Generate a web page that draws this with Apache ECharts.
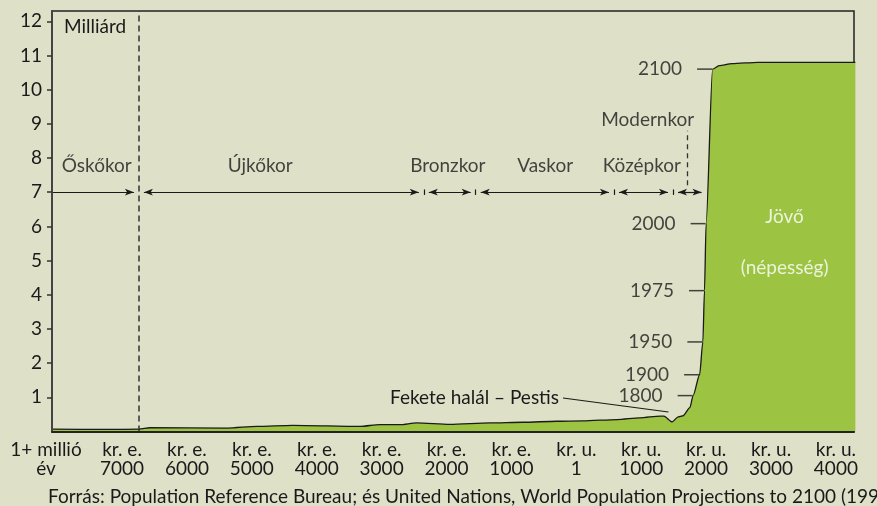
<!DOCTYPE html>
<html><head><meta charset="utf-8">
<script src="https://cdn.jsdelivr.net/npm/echarts@6/dist/echarts.min.js"></script>
<style>html,body{margin:0;padding:0;background:#dee0c8}#c{width:877px;height:506px}</style>
</head><body><div id="c"></div>
<script>
// ---- data (population in billions by year; negative = BC) ----
const popYears  = [-8100,-7230,-6740,-6570,-5380,-4920,-4370,-3330,-3030,-2720,-2460,-1950,-1330,-820,-300,100,630,980,1290,1350,1475,1570,1645,1750,1800,1900,1950,1975,2000,2100,2200,2400,2800,4300];
const popValues = [0.07,0.06,0.07,0.11,0.10,0.15,0.18,0.15,0.20,0.20,0.25,0.21,0.25,0.27,0.30,0.31,0.35,0.40,0.45,0.45,0.28,0.43,0.46,0.70,1.05,1.66,2.62,4.12,6.08,10.6,10.7,10.76,10.8,10.8];

const yTickValues = [1,2,3,4,5,6,7,8,9,10,11,12];
const xTickYears  = [-7000,-6000,-5000,-4000,-3000,-2000,-1000,1,1000,2000,3000,4000];
const xTickLabels = ['kr. e.\n7000','kr. e.\n6000','kr. e.\n5000','kr. e.\n4000','kr. e.\n3000','kr. e.\n2000','kr. e.\n1000','kr. u.\n1','kr. u.\n1000','kr. u.\n2000','kr. u.\n3000','kr. u.\n4000'];
const firstLabel  = ['1+ millió','év'];

const eraNames      = ['Őskőkor','Újkőkor','Bronzkor','Vaskor','Középkor','Modernkor'];
const eraBounds     = [-6740,-2350,-1550,580,1490];
const modernEnd     = 1930;
const eraLevel      = 7;
const eraLabelYears = [-7390,-4870,-1980,-480,1010,1100];
const eraLabelVals  = [7.76,7.76,7.76,7.76,7.76,9.11];

const annotYears  = [1800,1900,1950,1975,2000,2100];
const annotValues = [1.05,1.66,2.62,4.12,6.08,10.6];

const plagueText  = 'Fekete halál – Pestis';
const plagueFrom  = [-205,0.98];
const plagueTo    = [1420,0.57];

const futureText  = ['Jövő','(népesség)'];
const futurePos   = [[3210,6.28],[3210,4.78]];

const unitName   = 'Milliárd';
const sourceText = 'Forrás: Population Reference Bureau; és United Nations, World Population Projections to 2100 (1998)';

// ---- chart ----
const X_MIN = -8079, X_MAX = 4279, Y_MAX = 12.3, GAP = 77;
const FONT = 'Lato';
const FS = 19;
const INK = '#1a1a1a';

const starts = [X_MIN, ...eraBounds];
const ends = [...eraBounds, modernEnd];
const lineSt = {color: INK, width: 1.2, type: 'solid'};
const marks = [];
for (let i = 0; i < eraNames.length; i++) {
  const s = i === 0 ? X_MIN : starts[i] + GAP;
  const e = i === eraNames.length - 1 ? ends[i] : ends[i] - GAP;
  marks.push([{coord: [s, eraLevel], symbol: i === 0 ? 'none' : 'arrow', lineStyle: lineSt},
              {coord: [e, eraLevel], symbol: 'arrow'}]);
}
for (let i = 1; i < eraBounds.length; i++) {
  marks.push([{coord: [eraBounds[i], eraLevel - 0.08], symbol: 'none', lineStyle: lineSt},
              {coord: [eraBounds[i], eraLevel + 0.08], symbol: 'none'}]);
}
const dashSt = {color: '#333', width: 1.5, type: [6, 4]};
marks.push([{coord: [eraBounds[0], 0], symbol: 'none', lineStyle: dashSt},
            {coord: [eraBounds[0], Y_MAX], symbol: 'none'}]);
const modernMid = (eraBounds[4] + modernEnd) / 2;
marks.push([{coord: [modernMid, 7.2], symbol: 'none', lineStyle: {color: '#333', width: 1.3, type: [5, 4]}},
            {coord: [modernMid, 8.8], symbol: 'none'}]);

const txt = {fontFamily: FONT, fontSize: FS, color: INK};

const chart = echarts.init(document.getElementById('c'), null, {renderer: 'canvas'});
chart.setOption({
  backgroundColor: '#dee0c8',
  animation: false,
  textStyle: {fontFamily: FONT},
  title: {text: sourceText, left: 48, top: 487, padding: 0,
          textStyle: {fontFamily: FONT, fontSize: FS, fontWeight: 'normal', color: INK}},
  grid: {left: 52, top: 11, width: 802, height: 420.5, show: true,
         borderColor: '#222', borderWidth: 1.5, backgroundColor: 'transparent'},
  xAxis: {
    type: 'value', min: X_MIN, max: X_MAX, z: 5,
    splitLine: {show: false},
    axisTick: {show: false},
    axisLine: {onZero: false, lineStyle: {color: '#222', width: 2}},
    axisLabel: {
      customValues: [X_MIN, ...xTickYears],
      showMinLabel: true, showMaxLabel: true,
      margin: 9, fontFamily: FONT, fontSize: FS, lineHeight: 19, color: INK,
      formatter: v => {
        if (v === X_MIN) return '{f|' + firstLabel[0] + '}\n{f|' + firstLabel[1] + '}';
        const i = xTickYears.indexOf(v);
        return i >= 0 ? xTickLabels[i] : '';
      },
      rich: {f: {fontFamily: FONT, fontSize: FS, lineHeight: 19, color: INK, padding: [0, 12, 0, 0]}}
    }
  },
  yAxis: {
    type: 'value', min: 0, max: Y_MAX, z: 5,
    name: unitName, nameLocation: 'end', nameGap: -16,
    nameTextStyle: {fontFamily: FONT, fontSize: FS, color: INK, align: 'left', verticalAlign: 'middle', padding: [0, 0, 0, 12]},
    splitLine: {show: false},
    axisLine: {show: true, onZero: false, lineStyle: {color: '#444', width: 2}},
    axisTick: {show: true, length: 5, customValues: yTickValues, lineStyle: {color: '#333', width: 1.5}},
    axisLabel: {customValues: yTickValues, margin: 10, fontFamily: FONT, fontSize: FS, color: INK}
  },
  series: [
    {
      name: 'population', type: 'line', z: 2,
      data: popYears.map((y, i) => [y, popValues[i]]),
      symbol: 'none', smooth: 0.25, smoothMonotone: 'x',
      lineStyle: {color: INK, width: 1.3},
      areaStyle: {color: '#9dc343', opacity: 1}
    },
    {
      name: 'eras', type: 'line', data: [], z: 4,
      markLine: {silent: true, animation: false, symbolSize: [5, 9],
                 label: {show: false}, data: marks}
    },
    {
      name: 'plague', type: 'line', data: [], z: 4,
      markLine: {silent: true, animation: false, symbol: 'none',
                 lineStyle: {color: INK, width: 1.2, type: 'solid'},
                 label: {show: true, position: 'start', distance: 4, formatter: plagueText, ...txt},
                 data: [[{coord: plagueFrom}, {coord: plagueTo}]]}
    },
    {
      name: 'eraLabels', type: 'scatter', z: 4, symbolSize: 0,
      data: eraLabelYears.map((y, i) => ({value: [y, eraLabelVals[i]], name: eraNames[i]})),
      label: {show: true, position: 'inside', formatter: p => p.name, ...txt}
    },
    {
      name: 'yearMarks', type: 'scatter', z: 6,
      data: annotYears.map((y, i) => [y, annotValues[i]]),
      symbol: 'rect', symbolSize: [15, 1.5], symbolOffset: [-8, 0],
      itemStyle: {color: INK},
      label: {show: true, position: 'left', distance: 15, formatter: p => String(p.value[0]), ...txt}
    },
    {
      name: 'future', type: 'scatter', z: 6, symbolSize: 0,
      data: futurePos.map((p, i) => ({value: p, name: futureText[i]})),
      label: {show: true, position: 'inside', formatter: p => p.name, fontFamily: FONT, fontSize: FS, color: '#ffffff'}
    }
  ]
});
</script></body></html>
